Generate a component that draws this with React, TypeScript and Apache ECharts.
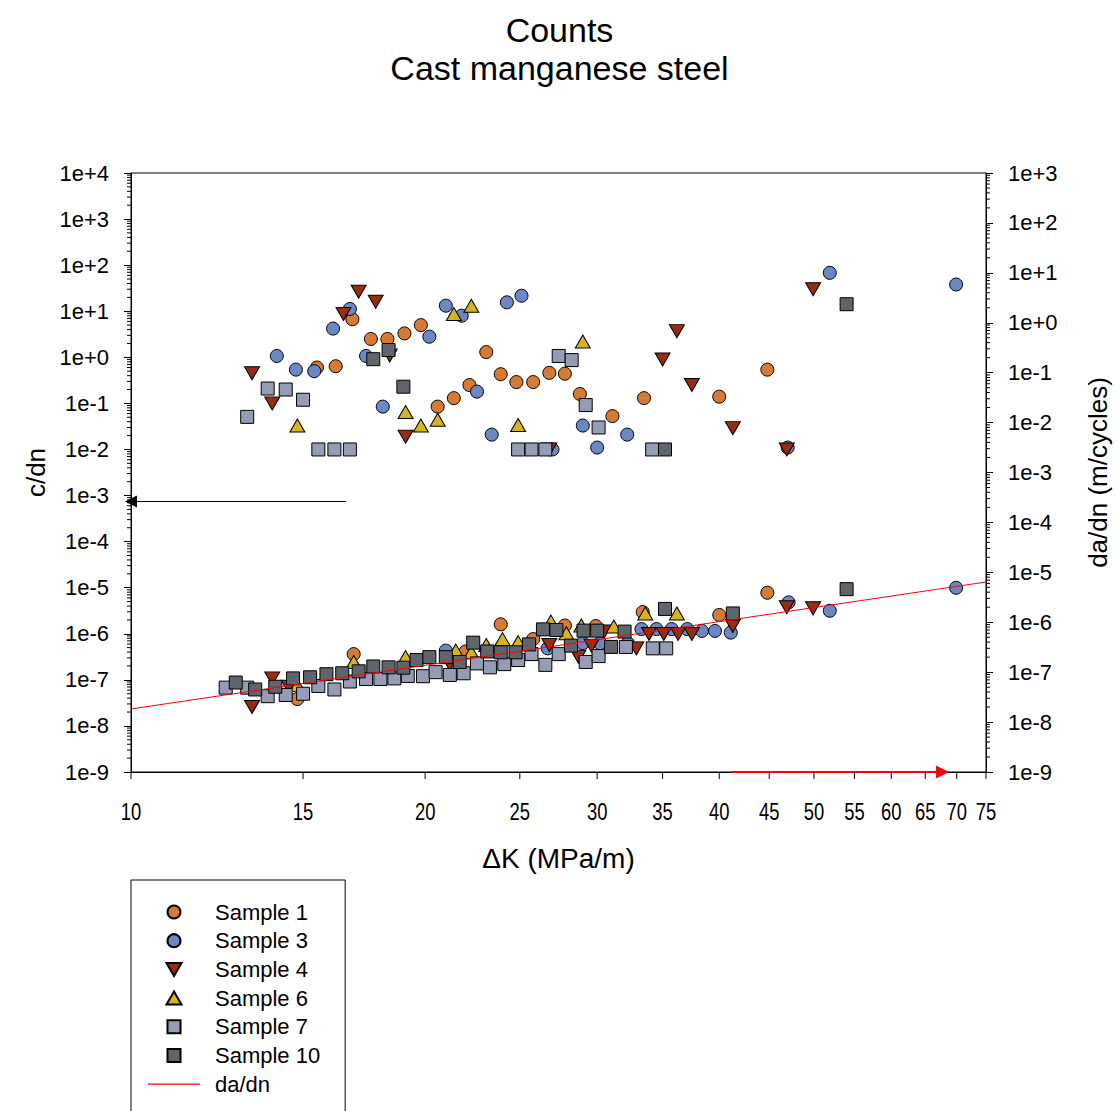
import React, { useEffect, useRef } from "react";
import * as echarts from "echarts";

type Pt = [number, number];

// ---------- axes ----------
const X_MIN = 10;
const X_MAX = 75;
const X_TICK_LABELS = [10, 15, 20, 25, 30, 35, 40, 45, 50, 55, 60, 65, 70, 75];
const LEFT_MIN_EXP = -9;
const LEFT_MAX_EXP = 4;
const RIGHT_MIN_EXP = -9;
const RIGHT_MAX_EXP = 3;
const MINOR_STEPS = [2, 3, 4, 5, 6, 7, 8, 9];

// ---------- c/dn (left axis) : [ΔK, c/dn] ----------
const S1_CDN: Pt[] = [
  [16.85, 6.7], [19.8, 5.0], [17.6, 2.5], [18.3, 2.5], [19.05, 3.3], [15.5, 0.6], [16.2, 0.64],
  [23.1, 1.3], [23.9, 0.43], [24.8, 0.29], [25.8, 0.29], [26.8, 0.46], [27.8, 0.44], [22.2, 0.25],
  [21.4, 0.13], [20.6, 0.085], [28.8, 0.16], [33.5, 0.13], [40.0, 0.14], [31.1, 0.053], [44.8, 0.54],
];
const S3_CDN: Pt[] = [
  [16.75, 11.2], [16.1, 4.2], [20.2, 2.8], [14.1, 1.07], [17.4, 1.07], [14.75, 0.54], [15.4, 0.5],
  [18.1, 0.085], [21.0, 13.2], [21.8, 8.0], [24.25, 15.6], [25.1, 21.7], [22.6, 0.18], [29.0, 0.033],
  [32.2, 0.021], [23.4, 0.021], [27.0, 0.01], [30.0, 0.011], [51.9, 68], [69.9, 38], [47.0, 0.011],
];
const S4_CDN: Pt[] = [
  [17.1, 26.5], [17.8, 16.1], [16.5, 8.7], [18.4, 1.1], [13.3, 0.45], [13.95, 0.1], [19.1, 0.019],
  [36.2, 3.7], [35.0, 0.9], [37.5, 0.25], [49.9, 30], [41.3, 0.029], [46.9, 0.01], [26.8, 0.01],
];
const S6_CDN: Pt[] = [
  [19.1, 0.065], [19.8, 0.033], [14.8, 0.033], [21.4, 8.7], [22.3, 13.2], [29.0, 2.2], [20.6, 0.044],
  [24.9, 0.034],
];
const S7_CDN: Pt[] = [
  [13.8, 0.21], [14.4, 0.2], [15.0, 0.12], [13.15, 0.051], [15.55, 0.01], [16.15, 0.01], [16.75, 0.01],
  [27.4, 1.07], [28.25, 0.87], [29.2, 0.092], [30.1, 0.03], [24.9, 0.01], [25.7, 0.01], [26.55, 0.01],
  [34.15, 0.01],
];
const S10_CDN: Pt[] = [[17.7, 0.91], [18.35, 1.44], [19.0, 0.23], [35.2, 0.01], [54.0, 14.2]];

// ---------- da/dn (right axis) : [ΔK, da/dn] ----------
const S1_DADN: Pt[] = [
  [16.9, 2.3e-7], [14.8, 2.9e-8], [23.9, 9.1e-7], [27.8, 8.6e-7], [29.9, 8.4e-7], [25.8, 4.6e-7],
  [33.4, 1.6e-6], [40.0, 1.4e-6], [44.8, 3.9e-6], [22.0, 2.6e-7],
];
const S3_DADN: Pt[] = [
  [33.3, 7.3e-7], [34.5, 7.3e-7], [35.75, 7.3e-7], [37.1, 7.3e-7], [38.4, 6.7e-7], [39.6, 6.7e-7],
  [41.1, 6.2e-7], [21.0, 2.7e-7], [26.7, 3.0e-7], [29.0, 3.8e-7], [30.2, 3.8e-7], [32.25, 3.8e-7],
  [47.1, 2.5e-6], [51.9, 1.7e-6], [69.9, 4.9e-6],
];
const S4_DADN: Pt[] = [
  [13.3, 2.0e-8], [13.95, 7.5e-8], [26.8, 3.5e-7], [28.7, 2.05e-7], [29.6, 3.4e-7], [30.5, 6.5e-7],
  [32.9, 3.0e-7], [33.9, 5.8e-7], [35.1, 5.8e-7], [36.3, 5.8e-7], [37.5, 5.8e-7], [21.2, 1.45e-7],
  [41.3, 8.4e-7], [46.9, 2.0e-6], [49.9, 1.9e-6], [14.5, 5.1e-8],
];
const S6_DADN: Pt[] = [
  [16.9, 1.6e-7], [19.1, 2.0e-7], [14.8, 5.5e-8], [24.0, 4.6e-7], [23.1, 3.5e-7], [21.5, 2.7e-7],
  [24.9, 4.0e-7], [26.9, 1.03e-6], [27.9, 6.0e-7], [28.9, 8.6e-7], [31.2, 8.2e-7], [33.6, 1.5e-6],
  [36.2, 1.5e-6], [22.3, 2.5e-7],
];
const S7_DADN: Pt[] = [
  [12.5, 4.9e-8], [13.15, 4.9e-8], [13.8, 3.3e-8], [14.4, 3.5e-8], [15.0, 3.7e-8], [15.55, 5.3e-8],
  [16.15, 4.5e-8], [16.75, 6.5e-8], [17.4, 7.3e-8], [18.0, 7.3e-8], [18.6, 7.5e-8], [19.2, 8.4e-8],
  [19.9, 8.3e-8], [20.5, 1.0e-7], [21.2, 8.8e-8], [21.9, 9.5e-8], [22.6, 1.5e-7], [23.3, 1.25e-7],
  [24.1, 1.45e-7], [24.9, 1.75e-7], [25.7, 2.3e-7], [26.55, 1.4e-7], [27.4, 2.3e-7], [29.2, 1.6e-7],
  [30.1, 2.1e-7], [32.1, 3.2e-7], [34.2, 3.0e-7], [35.3, 3.0e-7],
];
const S10_DADN: Pt[] = [
  [12.8, 6.2e-8], [13.4, 4.5e-8], [14.05, 5.1e-8], [14.65, 7.5e-8], [15.25, 7.9e-8], [15.85, 9.1e-8],
  [16.45, 9.5e-8], [17.1, 1.04e-7], [17.7, 1.3e-7], [18.35, 1.25e-7], [19.0, 1.23e-7], [19.6, 1.75e-7],
  [20.2, 2.0e-7], [21.0, 2.0e-7], [21.7, 1.6e-7], [22.4, 3.9e-7], [23.15, 2.6e-7], [23.9, 2.5e-7],
  [24.75, 2.5e-7], [25.55, 3.6e-7], [26.4, 7.2e-7], [27.25, 7.0e-7], [28.2, 3.4e-7], [29.05, 6.8e-7],
  [30.0, 6.8e-7], [31.0, 3.2e-7], [32.0, 6.5e-7], [35.2, 1.85e-6], [41.3, 1.5e-6], [54.0, 4.6e-6],
];

// ---------- da/dn fitted line ----------
const FIT_DK = [10, 75];
const FIT_DADN = [1.83e-8, 6.4e-6];

// ---------- axis indicator arrows ----------
const CDN_ARROW_DK = [16.6, 10];
const CDN_ARROW_LEVEL = 7.4e-4;
const DADN_ARROW_DK = [41.1, 67.7];
const DADN_ARROW_LEVEL = 1e-9;

const FONT = "'Liberation Sans', Arial, Helvetica, sans-serif";
const DOWN_TRI = "path://M0,0L15,0L7.5,13Z";
const UP_TRI = "path://M7.5,0L15,13L0,13Z";
const SQUARE = "path://M0,0L13,0L13,13L0,13Z";
const LINE_ICON = "path://M0,0L52,0L52,1.2L0,1.2Z";

const SAMPLES = [
  { name: "Sample 1", color: "#d97a33", symbol: "circle", size: 13 as any, cdn: S1_CDN, dadn: S1_DADN },
  { name: "Sample 3", color: "#6a88c4", symbol: "circle", size: 13 as any, cdn: S3_CDN, dadn: S3_DADN },
  { name: "Sample 4", color: "#982b13", symbol: DOWN_TRI, size: [15, 13] as any, cdn: S4_CDN, dadn: S4_DADN },
  { name: "Sample 6", color: "#d8b321", symbol: UP_TRI, size: [15, 13] as any, cdn: S6_CDN, dadn: S6_DADN },
  { name: "Sample 7", color: "#959cb6", symbol: SQUARE, size: 13 as any, cdn: S7_CDN, dadn: S7_DADN },
  { name: "Sample 10", color: "#60646d", symbol: SQUARE, size: 13 as any, cdn: S10_CDN, dadn: S10_DADN },
];

const lg = Math.log10;
const toLog = (pts: Pt[]) => pts.map(([x, y]) => [lg(x), lg(y)]);
const expLabel = (v: number) => {
  const e = Math.round(v);
  return `1e${e >= 0 ? "+" : "-"}${Math.abs(e)}`;
};

function buildOption(): any {
  const leftMinor: number[][] = [];
  for (let e = LEFT_MIN_EXP; e < LEFT_MAX_EXP; e++)
    for (const k of MINOR_STEPS) leftMinor.push([lg(X_MIN), e + lg(k)]);
  const rightMinor: number[][] = [];
  for (let e = RIGHT_MIN_EXP; e < RIGHT_MAX_EXP; e++)
    for (const k of MINOR_STEPS) rightMinor.push([lg(X_MAX), e + lg(k)]);

  const series: any[] = [];

  series.push({
    name: "da/dn",
    type: "line",
    yAxisIndex: 1,
    data: FIT_DK.map((x, i) => [lg(x), lg(FIT_DADN[i])]),
    symbol: "none",
    lineStyle: { color: "#ff0000", width: 1 },
    itemStyle: { color: "#ff0000" },
    silent: true,
    markLine: {
      silent: true,
      symbol: ["none", "triangle"],
      symbolSize: 13,
      label: { show: false },
      lineStyle: { color: "#ff0000", width: 2, type: "solid" },
      itemStyle: { color: "#ff0000" },
      emphasis: { disabled: true },
      data: [[
        { coord: [lg(DADN_ARROW_DK[0]), lg(DADN_ARROW_LEVEL)] },
        { coord: [lg(DADN_ARROW_DK[1]), lg(DADN_ARROW_LEVEL)] },
      ]],
    },
  });

  SAMPLES.forEach((s, i) => {
    const common = {
      name: s.name,
      type: "scatter",
      symbol: s.symbol,
      symbolSize: s.size,
      symbolKeepAspect: false,
      itemStyle: { color: s.color, borderColor: "#000", borderWidth: 1, opacity: 1 },
      silent: true,
    };
    const upper: any = { ...common, yAxisIndex: 0, data: toLog(s.cdn) };
    if (i === 0) {
      upper.markLine = {
        silent: true,
        symbol: ["none", "triangle"],
        symbolSize: 12,
        label: { show: false },
        lineStyle: { color: "#000", width: 1, type: "solid" },
        itemStyle: { color: "#000" },
        emphasis: { disabled: true },
        data: [[
          { coord: [lg(CDN_ARROW_DK[0]), lg(CDN_ARROW_LEVEL)] },
          { coord: [lg(CDN_ARROW_DK[1]), lg(CDN_ARROW_LEVEL)] },
        ]],
      };
    }
    series.push(upper);
    series.push({ ...common, yAxisIndex: 1, data: toLog(s.dadn) });
  });

  // x tick marks + labels
  series.push({
    type: "custom",
    name: "_xticks",
    xAxisIndex: 0,
    yAxisIndex: 0,
    silent: true,
    z: 10,
    data: X_TICK_LABELS.map((v) => [lg(v), LEFT_MIN_EXP]),
    renderItem: (params: any, api: any) => {
      const p = api.coord([api.value(0), api.value(1)]);
      const label = String(X_TICK_LABELS[params.dataIndex]);
      return {
        type: "group",
        children: [
          { type: "line", shape: { x1: p[0], y1: p[1], x2: p[0], y2: p[1] + 7 }, style: { stroke: "#000", lineWidth: 1 } },
          {
            type: "text",
            x: p[0],
            y: p[1] + 40,
            scaleX: 0.8,
            style: { text: label, fill: "#000", fontSize: 23, fontFamily: FONT, align: "center", verticalAlign: "middle" },
          },
        ],
      };
    },
  });

  // left minor ticks
  series.push({
    type: "custom",
    name: "_lminor",
    xAxisIndex: 0,
    yAxisIndex: 0,
    silent: true,
    z: 10,
    data: leftMinor,
    renderItem: (params: any, api: any) => {
      const p = api.coord([api.value(0), api.value(1)]);
      return { type: "line", shape: { x1: p[0] - 4, y1: p[1], x2: p[0], y2: p[1] }, style: { stroke: "#000", lineWidth: 1 } };
    },
  });

  // right minor ticks
  series.push({
    type: "custom",
    name: "_rminor",
    xAxisIndex: 0,
    yAxisIndex: 1,
    silent: true,
    z: 10,
    data: rightMinor,
    renderItem: (params: any, api: any) => {
      const p = api.coord([api.value(0), api.value(1)]);
      return { type: "line", shape: { x1: p[0], y1: p[1], x2: p[0] + 4, y2: p[1] }, style: { stroke: "#000", lineWidth: 1 } };
    },
  });

  const yCommon = {
    type: "value",
    interval: 1,
    axisLine: { show: true, onZero: false, lineStyle: { color: "#000", width: 1 } },
    axisTick: { show: true, inside: false, length: 7, lineStyle: { color: "#000" } },
    axisLabel: { formatter: expLabel, margin: 22, fontSize: 22, color: "#000", fontFamily: FONT },
    splitLine: { show: false },
    nameLocation: "middle",
    nameTextStyle: { fontSize: 26, color: "#000", fontFamily: FONT },
  };

  const legendData: any[] = SAMPLES.map((s) => ({ name: s.name, icon: s.symbol === "circle" ? "circle" : s.symbol }));
  legendData.push({ name: "da/dn", icon: LINE_ICON });

  return {
    animation: false,
    backgroundColor: "#fff",
    title: {
      text: "Counts\nCast manganese steel",
      left: "center",
      top: 11,
      padding: 0,
      textStyle: { fontSize: 34, fontWeight: "normal", fontFamily: FONT, color: "#000", lineHeight: 38 },
    },
    grid: { left: 131, right: 132, top: 173, bottom: 339, show: true, borderColor: "#000", borderWidth: 1, backgroundColor: "transparent" },
    xAxis: {
      type: "value",
      min: lg(X_MIN),
      max: lg(X_MAX),
      axisLine: { show: true, onZero: false, lineStyle: { color: "#000", width: 1 } },
      axisTick: { show: false },
      axisLabel: { show: false },
      splitLine: { show: false },
      name: "ΔK (MPa/m)",
      nameLocation: "middle",
      nameGap: 72,
      nameTextStyle: { fontSize: 28, color: "#000", fontFamily: FONT },
    },
    yAxis: [
      { ...yCommon, position: "left", min: LEFT_MIN_EXP, max: LEFT_MAX_EXP, name: "c/dn", nameGap: 78 },
      { ...yCommon, position: "right", min: RIGHT_MIN_EXP, max: RIGHT_MAX_EXP, name: "da/dn (m/cycles)", nameGap: 99 },
    ],
    legend: {
      data: legendData,
      orient: "vertical",
      left: 131,
      top: 880,
      height: 320,
      itemWidth: 52,
      itemHeight: 13,
      itemGap: 6.7,
      padding: [21, 25, 60, 17],
      borderColor: "#000",
      borderWidth: 1,
      selectedMode: false,
      textStyle: { fontSize: 22, fontFamily: FONT, color: "#000", lineHeight: 22, padding: [0, 0, 0, 10] },
    },
    series,
  };
}

export default function App() {
  const ref = useRef<HTMLDivElement>(null);
  useEffect(() => {
    const chart = echarts.init(ref.current!, null, { renderer: "svg" });
    chart.setOption(buildOption());
    return () => chart.dispose();
  }, []);
  return <div ref={ref} style={{ position: "absolute", left: 0, top: 0, width: 1119, height: 1111 }} />;
}
